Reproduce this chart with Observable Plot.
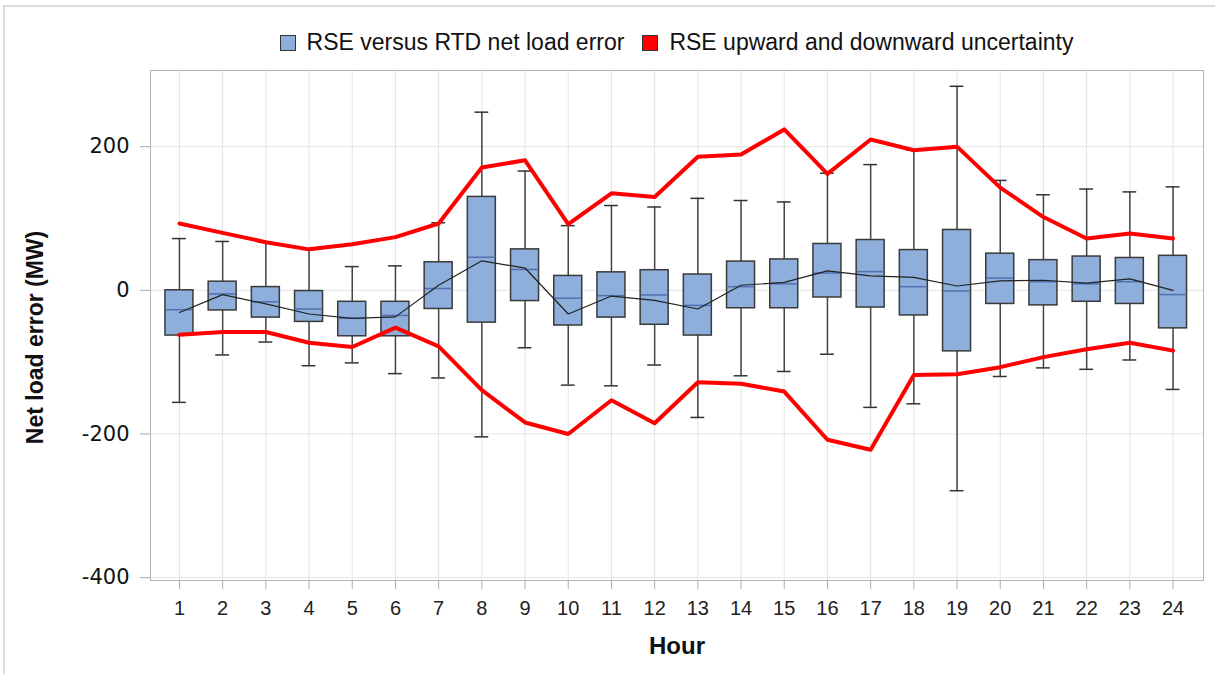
<!DOCTYPE html>
<html><head><meta charset="utf-8">
<script src="https://cdn.jsdelivr.net/npm/d3@7"></script>
<script src="https://cdn.jsdelivr.net/npm/@observablehq/plot@0.6"></script>
<style>
body{margin:0;background:#fff;}
#wrap{position:relative;width:1215px;height:674px;overflow:hidden;font-family:"Liberation Sans",Arial,sans-serif;}
#border{position:absolute;left:3px;top:5px;width:1400px;height:900px;border-left:2px solid #dcdcdc;border-top:2px solid #dcdcdc;}
#legend{position:absolute;top:29px;left:150px;width:1053px;display:flex;justify-content:center;align-items:center;font-size:23px;color:#111;white-space:nowrap;}
.item{display:flex;align-items:center;}
.sw{width:16px;height:16px;border:1px solid #333;margin-right:11px;box-sizing:border-box;}
#chart{position:absolute;left:0;top:0;}
</style></head>
<body>
<div id="wrap">
<div id="border"></div>
<div id="chart"></div>
<div id="legend">
  <div class="item"><div class="sw" style="background:#8eaedb"></div><span>RSE versus RTD net load error</span></div>
  <div class="item" style="margin-left:18px"><div class="sw" style="background:#ff0000"></div><span>RSE upward and downward uncertainty</span></div>
</div>
</div>
<script>
const hours = [1,2,3,4,5,6,7,8,9,10,11,12,13,14,15,16,17,18,19,20,21,22,23,24];
const whiskerMax = [72,68,67,57,33,34,94,248,166,90,118,116,128,125,123,163,175,195,284,153,133,141,137,144];
const q3 = [0,12,4.5,-1,-16,-16,39,130,57,20,25,28,22,40,43,64.5,70,56,84,51,42,47,45,48];
const median = [-27,-5,-16,-26,-39,-35,2.5,46,29,-11,-7.5,-6.5,-21,5,9,24,26,5,-1,17,12,9,12,-6];
const q1 = [-63,-28,-38,-44,-64,-64,-26,-45,-15,-49,-38,-48,-63,-25,-25,-10,-24,-35,-85,-19,-21,-16,-19,-53];
const whiskerMin = [-156,-90,-72,-105,-101,-116,-122,-204,-80,-132,-133,-104,-177,-119,-113,-89,-163,-158,-279,-120,-108,-110,-97,-138];
const meanError = [-31,-6,-19,-33,-39,-37,7,41,31,-33,-8,-14,-26,7,11,27,20,18,6,13,14,10,16,0];
const upperUnc = [93,80,67,57,64,74,93,171,181,92,135,130,186,189,224,162,210,195,200,143,102,72,79,72];
const lowerUnc = [-62,-58,-58,-73,-79,-52,-78,-139,-184,-200,-153,-185,-128,-130,-141,-208,-222,-118,-117,-107,-93,-82,-73,-84];
const yTicks = [-400,-200,0,200];
const xLabel = "Hour";
const yLabel = "Net load error (MW)";

const data = hours.map((h,i)=>({hour:h, hi:whiskerMax[i], q3:q3[i], med:median[i], q1:q1[i], lo:whiskerMin[i], mean:meanError[i], up:upperUnc[i], down:lowerUnc[i]}));
const BW = 0.324, CAP = 0.16;

const chart = Plot.plot({
  width:1215, height:674,
  marginLeft:150, marginRight:12, marginTop:70, marginBottom:94,
  style:{fontFamily:"'Liberation Sans', Arial, sans-serif", background:"transparent"},
  x:{type:"linear", domain:[0.33,24.705]},
  y:{domain:[-404,306]},
  marks:[
    Plot.gridX(hours,{stroke:"#e4e4e4", strokeOpacity:1}),
    Plot.gridY(yTicks,{stroke:"#e4e4e4", strokeOpacity:1}),
    Plot.frame({stroke:"#b4b4b4"}),
    Plot.axisX(hours,{tickSize:9, tickPadding:11, fontSize:20, stroke:"#aaaaaa", fill:"#222", tickFormat:d=>String(d), label:null}),
    Plot.axisY(yTicks,{tickSize:10, tickPadding:11, fontSize:21, fontFamily:"'DejaVu Sans', sans-serif", stroke:"#aaaaaa", fill:"#111", tickFormat:d=>String(d), label:null}),
    Plot.ruleX(data,{x:"hour", y1:"lo", y2:"hi", stroke:"#444", strokeWidth:1.5}),
    Plot.ruleY(data,{y:"hi", x1:d=>d.hour-CAP, x2:d=>d.hour+CAP, stroke:"#333", strokeWidth:1.5}),
    Plot.ruleY(data,{y:"lo", x1:d=>d.hour-CAP, x2:d=>d.hour+CAP, stroke:"#333", strokeWidth:1.5}),
    Plot.rect(data,{x1:d=>d.hour-BW, x2:d=>d.hour+BW, y1:"q1", y2:"q3", fill:"#8eaedb", stroke:"#3a3a3a", strokeWidth:1.5}),
    Plot.ruleY(data,{y:"med", x1:d=>d.hour-BW+0.02, x2:d=>d.hour+BW-0.02, stroke:"#5070b0", strokeWidth:1.5}),
    Plot.line(data,{x:"hour", y:"mean", stroke:"#222", strokeWidth:1.2}),
    Plot.line(data,{x:"hour", y:"up", stroke:"#ff0000", strokeWidth:4}),
    Plot.line(data,{x:"hour", y:"down", stroke:"#ff0000", strokeWidth:4}),
    Plot.text([yLabel],{frameAnchor:"left", rotate:-90, dx:-115, dy:12, textAnchor:"middle", lineAnchor:"middle", fontSize:23, fontWeight:"bold", fill:"#111"}),
    Plot.text([xLabel],{frameAnchor:"bottom", dy:66, textAnchor:"middle", lineAnchor:"middle", fontSize:24, fontWeight:"bold", fill:"#111"})
  ]
});
document.getElementById("chart").appendChild(chart);
</script>
</body></html>
